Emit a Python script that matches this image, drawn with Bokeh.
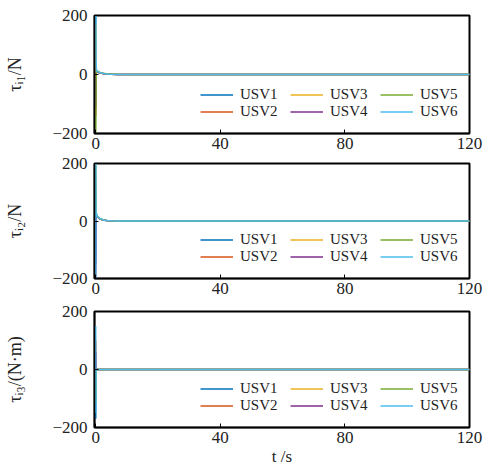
from bokeh.plotting import figure
from bokeh.layouts import column
from bokeh.models import Legend, LegendItem, FixedTicker, Range1d
from bokeh.embed import file_html
from bokeh.resources import INLINE

# ---------------- data ----------------
t = [0, 0.05, 0.1, 0.2, 0.35, 0.5, 0.8, 1.2, 1.8, 2.5, 3.5, 5, 7, 10, 20, 40, 80, 120]

names = ["USV1", "USV2", "USV3", "USV4", "USV5", "USV6"]
colors = ["#0072BD", "#D95319", "#EDB120", "#7E2F8E", "#77AC30", "#4DBEEE"]

# panel 1: tau_i1 (N)
tau1_usv1 = [200, 110, 40, 15, 12, 11, 9, 7, 5, 3.5, 2, 1, 0.4, 0.1, 0, 0, 0, 0]
tau1_usv2 = [-140, -60, -10, 8, 10, 10, 8, 6, 4.5, 3, 1.8, 0.9, 0.3, 0.1, 0, 0, 0, 0]
tau1_usv3 = [170, 90, 30, 12, 11, 10, 8, 6, 4, 3, 1.8, 0.9, 0.3, 0.1, 0, 0, 0, 0]
tau1_usv4 = [-110, -45, -5, 7, 9, 9, 7, 5.5, 4, 2.8, 1.6, 0.8, 0.3, 0.1, 0, 0, 0, 0]
tau1_usv5 = [-200, -160, -40, 10, 13, 12, 10, 7.5, 5.5, 4, 2.5, 1.2, 0.5, 0.2, 0, 0, 0, 0]
tau1_usv6 = [200, 150, 55, 16, 13, 11, 9, 7, 5, 3.5, 2, 1, 0.4, 0.1, 0, 0, 0, 0]

# panel 2: tau_i2 (N)
tau2_usv1 = [-150, -40, 15, 22, 20, 17, 13, 9, 6, 3.5, 2, 0.8, 0.3, 0.1, 0, 0, 0, 0]
tau2_usv2 = [130, 60, 25, 22, 19, 16, 12, 8.5, 5.5, 3.3, 1.8, 0.8, 0.3, 0.1, 0, 0, 0, 0]
tau2_usv3 = [160, 70, 28, 23, 20, 16, 12, 8.5, 5.5, 3.3, 1.8, 0.8, 0.3, 0.1, 0, 0, 0, 0]
tau2_usv4 = [-200, -80, 10, 20, 19, 16, 12, 8, 5, 3, 1.7, 0.7, 0.3, 0.1, 0, 0, 0, 0]
tau2_usv5 = [200, 120, 35, 25, 21, 17, 13, 9, 6, 3.5, 2, 0.8, 0.3, 0.1, 0, 0, 0, 0]
tau2_usv6 = [-200, 200, 30, 26, 22, 18, 13, 9, 6, 3.5, 2, 0.8, 0.3, 0.1, 0, 0, 0, 0]

# panel 3: tau_i3 (N*m)
tau3_usv1 = [-170, -30, 0, 0, 0, 0, 0, 0, 0, 0, 0, 0, 0, 0, 0, 0, 0, 0]
tau3_usv2 = [100, 20, 0, 0, 0, 0, 0, 0, 0, 0, 0, 0, 0, 0, 0, 0, 0, 0]
tau3_usv3 = [-80, -10, 0, 0, 0, 0, 0, 0, 0, 0, 0, 0, 0, 0, 0, 0, 0, 0]
tau3_usv4 = [60, 10, 0, 0, 0, 0, 0, 0, 0, 0, 0, 0, 0, 0, 0, 0, 0, 0]
tau3_usv5 = [-120, -20, 0, 0, 0, 0, 0, 0, 0, 0, 0, 0, 0, 0, 0, 0, 0, 0]
tau3_usv6 = [150, -150, 0, 0, 0, 0, 0, 0, 0, 0, 0, 0, 0, 0, 0, 0, 0, 0]

x_ticks = [0, 40, 80, 120]
y_ticks = [-200, 0, 200]

FONT = "Liberation Serif"


def make_panel(series, ylabel, top, frame_h, xlabel=None):
    p = figure(width=485, frame_width=375, frame_height=frame_h,
               x_range=Range1d(-0.4, 120), y_range=Range1d(-200, 200),
               output_backend="svg", toolbar_location=None,
               min_border_left=94, min_border_right=16,
               min_border_top=top, min_border_bottom=0)
    p.xgrid.visible = False
    p.ygrid.visible = False
    p.outline_line_color = "black"
    p.outline_line_width = 2
    p.outline_line_alpha = 1
    p.background_fill_color = "white"
    p.border_fill_color = "white"

    renderers = []
    for vals, c in zip(series, colors):
        r = p.line(t, vals, line_color=c, line_width=1.5)
        renderers.append(r)

    for ax in (p.xaxis[0], p.yaxis[0]):
        ax.axis_line_color = "black"
        ax.axis_line_width = 1.5
        ax.major_tick_in = 4
        ax.major_tick_out = 0
        ax.minor_tick_in = 0
        ax.minor_tick_out = 0
        ax.major_tick_line_color = "black"
        ax.major_label_text_font = FONT
        ax.major_label_text_font_size = "17px"
        ax.major_label_text_color = "#222222"
        ax.axis_label_text_font = FONT
        ax.axis_label_text_font_size = "18px"
        ax.axis_label_text_font_style = "normal"
        ax.axis_label_text_color = "#222222"

    p.xaxis.ticker = FixedTicker(ticks=x_ticks)
    p.yaxis.ticker = FixedTicker(ticks=y_ticks)
    p.yaxis.major_label_overrides = {-200: "\u2212200"}
    p.xaxis.major_label_standoff = 4
    p.yaxis.major_label_standoff = 7
    p.yaxis.axis_label = ylabel
    p.yaxis.axis_label_standoff = 24
    if xlabel:
        p.xaxis.axis_label = xlabel
        p.xaxis.axis_label_standoff = 1
        p.xaxis.axis_label_text_font_size = "17px"

    items = [LegendItem(label=n, renderers=[r]) for n, r in zip(names, renderers)]
    legend = Legend(items=items, orientation="vertical", nrows=2,
                    location=(106, 13), padding=0, margin=0, spacing=0,
                    glyph_width=33, glyph_height=17, label_height=17,
                    label_width=50, label_standoff=7,
                    label_text_font=FONT, label_text_font_size="15px",
                    label_text_color="#222222",
                    border_line_alpha=0, background_fill_alpha=0)
    p.add_layout(legend)
    return p


p1 = make_panel([tau1_usv1, tau1_usv2, tau1_usv3, tau1_usv4, tau1_usv5, tau1_usv6],
                "\u03c4\u1d62\u2081/N", 15, 118)
p2 = make_panel([tau2_usv1, tau2_usv2, tau2_usv3, tau2_usv4, tau2_usv5, tau2_usv6],
                "\u03c4\u1d62\u2082/N", 12, 115)
p3 = make_panel([tau3_usv1, tau3_usv2, tau3_usv3, tau3_usv4, tau3_usv5, tau3_usv6],
                "\u03c4\u1d62\u2083/(N\u00b7m)", 15, 116, xlabel="t /s")

layout = column(p1, p2, p3, spacing=0)
open("out.html", "w").write(file_html(layout, INLINE))
